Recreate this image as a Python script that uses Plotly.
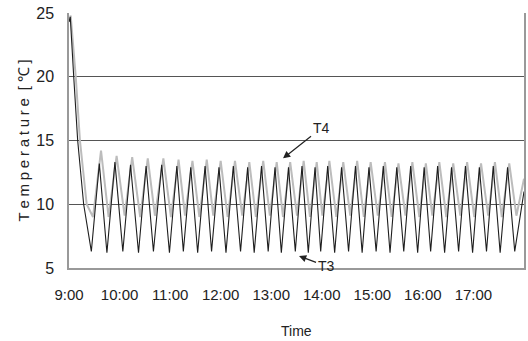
import plotly.graph_objects as go

# minutes after 9:00
t3_time = [0, 1.5, 5.6, 10.3, 17.4, 26.5, 36, 45, 54.5, 63.9, 73, 82.5, 91.5, 100.2, 110, 119.2,
           128, 135.7, 144.5, 152.7, 161.5, 169.2, 178, 186.3, 195, 203.6, 212, 219.8, 228.5,
           236.4, 244.5, 252, 260.5, 268.6, 276.5, 284, 292, 298.7, 307, 315.3, 323.5, 331.8,
           340, 347.9, 356, 364.5, 373, 381, 389, 397.3, 405.5, 413.8, 421.5, 429.2, 437.5,
           445.8, 454, 462.4, 470.5, 479, 487, 495.5, 503.5, 511.7, 520.5, 529, 540]
t3_temp = [24.3, 24.7, 20.0, 15.0, 10.0, 6.3, 13.2, 6.2, 13.3, 6.3, 13.1, 6.2, 13.0, 6.3, 13.1, 6.2,
           13.0, 6.3, 12.9, 6.2, 13.0, 6.3, 12.9, 6.2, 13.0, 6.3, 12.9, 6.2, 13.0,
           6.3, 12.9, 6.2, 12.9, 6.3, 13.0, 6.2, 12.9, 6.3, 13.0, 6.2, 12.9, 6.3,
           13.0, 6.2, 12.9, 6.3, 13.0, 6.2, 12.9, 6.3, 13.0, 6.2, 12.9, 6.3, 13.0,
           6.2, 12.9, 6.3, 13.0, 6.2, 12.9, 6.3, 13.0, 6.2, 12.9, 6.3, 11.0]

t4_time = [0, 2, 8, 13, 21, 28.5, 38, 47, 56.5, 66, 75, 84.5, 93.5, 102, 112, 121, 130, 137.7,
           146.5, 154.7, 163.5, 171.2, 180, 188.3, 197, 205.6, 214, 221.8, 230.5, 238.4, 246.5,
           254, 262.5, 270.6, 278.5, 286, 294, 300.7, 309, 317.3, 325.5, 333.8, 342, 349.9,
           358, 366.5, 375, 383, 391, 399.3, 407.5, 415.8, 423.5, 431.2, 439.5, 447.8, 456,
           464.4, 472.5, 481, 489, 497.5, 505.5, 513.7, 522.5, 531, 540]
t4_temp = [24.3, 24.8, 20.0, 15.0, 10.0, 9.0, 14.2, 9.0, 13.8, 9.1, 13.7, 9.0, 13.6, 9.1, 13.6, 9.0, 13.5, 9.1,
           13.4, 9.0, 13.5, 9.1, 13.4, 9.0, 13.4, 9.1, 13.3, 9.0, 13.4, 9.1, 13.3,
           9.0, 13.3, 9.1, 13.4, 9.0, 13.3, 9.1, 13.4, 9.0, 13.3, 9.1, 13.4, 9.0,
           13.3, 9.1, 13.3, 9.0, 13.2, 9.1, 13.3, 9.0, 13.2, 9.1, 13.3, 9.0, 13.2,
           9.1, 13.3, 9.0, 13.2, 9.1, 13.3, 9.0, 13.2, 9.1, 12.0]

tick_minutes = [0, 60, 120, 180, 240, 300, 360, 420, 480]
tick_labels = ["9:00", "10:00", "11:00", "12:00", "13:00", "14:00", "15:00", "16:00", "17:00"]
y_ticks = [5, 10, 15, 20, 25]

FONT = "Liberation Sans, Arial, sans-serif"
NARROW = "Liberation Sans Narrow, " + FONT
SP = "\u2005"
y_title = SP.join(list("Temperature")) + SP + " [" + SP + "℃" + SP + "]"

fig = go.Figure()
fig.add_trace(go.Scatter(x=t4_time, y=t4_temp, mode="lines", name="T4",
                         line=dict(color="#bcbcbc", width=2)))
fig.add_trace(go.Scatter(x=t3_time, y=t3_temp, mode="lines", name="T3",
                         line=dict(color="#1e1e1e", width=1.1)))

fig.update_layout(
    width=528, height=341,
    margin=dict(l=69, r=2, t=13, b=73),
    paper_bgcolor="white", plot_bgcolor="white",
    showlegend=False,
    font=dict(family=FONT, color="#222", size=15),
    xaxis=dict(range=[0, 540], tickvals=tick_minutes, ticktext=tick_labels,
               showgrid=False, zeroline=False, ticks="",
               showline=True, linecolor="#999", linewidth=1.5,
               tickfont=dict(size=15, family=FONT, color="#222"),
               ticklabelstandoff=12),
    yaxis=dict(range=[5, 25], tickvals=y_ticks, showgrid=True, gridcolor="#555",
               gridwidth=1, zeroline=False, ticks="",
               showline=True, linecolor="#999", linewidth=1.5, mirror=True,
               tickfont=dict(size=16, family=FONT, color="#222"),
               ticklabelstandoff=10),
    annotations=[
        dict(text=y_title, xref="paper", yref="paper", x=0, y=0.5, xshift=-46,
             xanchor="center", yanchor="middle",
             textangle=-90, showarrow=False, font=dict(size=15, family=FONT, color="#222")),
        dict(text="Time", xref="paper", yref="paper", x=0.5, y=0, yshift=-63,
             xanchor="center", yanchor="middle",
             showarrow=False, font=dict(size=14, family=NARROW, color="#222")),
        dict(text="T4", x=254, y=13.6, ax=38, ay=-30, showarrow=True,
             arrowhead=2, arrowsize=1.2, arrowwidth=1.2, arrowcolor="#222",
             font=dict(size=14, family=NARROW, color="#222")),
        dict(text="T3", x=273, y=5.94, ax=27, ay=10, showarrow=True,
             arrowhead=2, arrowsize=1.2, arrowwidth=1.2, arrowcolor="#222",
             font=dict(size=14, family=NARROW, color="#222")),
    ],
)

fig.write_html("out.html")
